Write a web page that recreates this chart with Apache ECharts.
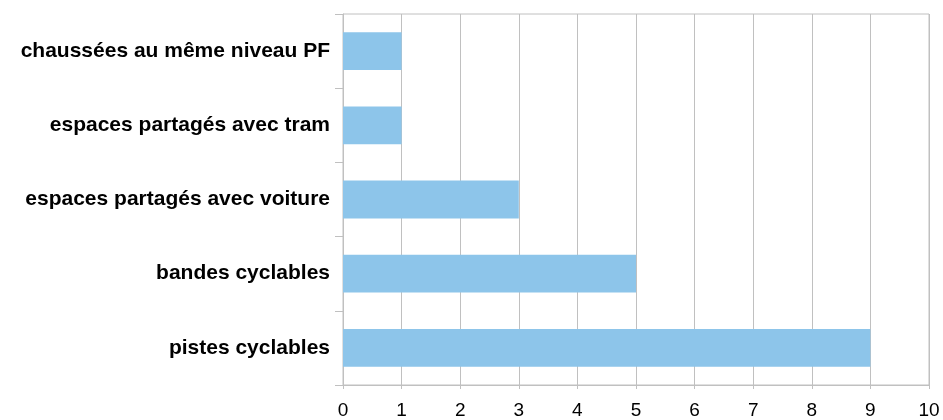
<!DOCTYPE html>
<html><head><meta charset="utf-8">
<script src="https://cdn.jsdelivr.net/npm/echarts@6/dist/echarts.min.js"></script>
<style>html,body{margin:0;padding:0;background:#fff}#c{width:943px;height:420px}</style>
</head><body><div id="c"></div>
<script>
const categories = ["pistes cyclables","bandes cyclables","espaces partagés avec voiture","espaces partagés avec tram","chaussées au même niveau PF"];
const values = [9,5,3,1,1];
const xTicks = [0,1,2,3,4,5,6,7,8,9,10];

const chart = echarts.init(document.getElementById('c'));
chart.setOption({
  animation:false,
  grid:{left:343,right:14,top:14,bottom:34,show:true,borderColor:'#c0c0c0',borderWidth:1},
  xAxis:{type:'value',min:0,max:10,interval:1,
    axisLine:{show:true,lineStyle:{color:'#c0c0c0'}},
    axisTick:{show:true,length:4,lineStyle:{color:'#c0c0c0'}},
    splitLine:{show:true,lineStyle:{color:'#c0c0c0'}},
    axisLabel:{color:'#000',fontSize:19,fontFamily:'Liberation Sans, Arial',margin:16,
      formatter:function(v){return xTicks.indexOf(v)>=0?String(v):'';}}},
  yAxis:{type:'category',data:categories,
    axisLine:{show:true,lineStyle:{color:'#c0c0c0'}},
    axisTick:{show:true,length:8,lineStyle:{color:'#c0c0c0'}},
    axisLabel:{color:'#000',fontSize:21,fontWeight:'bold',fontFamily:'Liberation Sans, Arial',margin:13}},
  series:[{type:'bar',data:values,barWidth:'51%',itemStyle:{color:'#8DC5EA'}}]
});
</script></body></html>
